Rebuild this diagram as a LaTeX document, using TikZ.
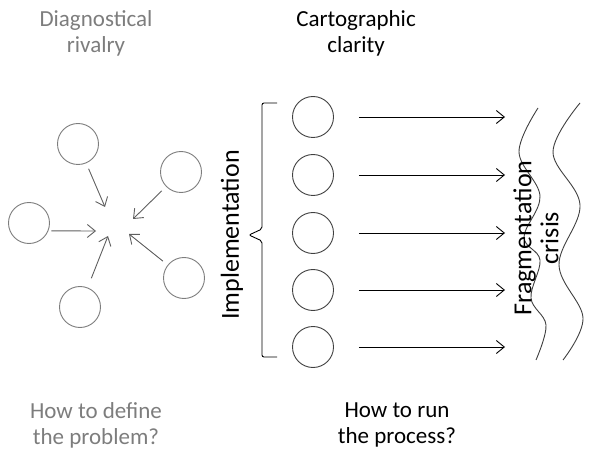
\documentclass[tikz,border=0pt]{standalone}
\usepackage{fontspec}
\setmainfont{Carlito}
\usetikzlibrary{arrows.meta}
\definecolor{rivalgray}{RGB}{125,125,125}
\definecolor{arrowgray}{RGB}{95,95,95}
\tikzset{
  circ/.style={draw, circle, minimum size=41pt, inner sep=0pt},
  arr/.style={-{Straight Barb[length=8pt,width=13pt]}},
  title/.style={align=center, font=\fontsize{23}{26}\selectfont},
  sidetext/.style={align=center, rotate=90, font=\fontsize{26}{27}\selectfont},
}

\begin{document}
\begin{tikzpicture}[x=1pt,y=-1pt,line width=0.9pt]
	\useasboundingbox (0,0) rectangle (589,465);
	% titles
	\node[title, text=rivalgray] (rival) at (96,33) {Diagnostical\\rivalry};
	\node[title] (clarity) at (356,33) {Cartographic\\clarity};
	\node[title, text=rivalgray] (define) at (96,425) {How to define\\the problem?};
	\node[title] (run) at (397,425) {How to run\\the process?};

	% left: circles pointing at one spot
	\node[circ, draw=rivalgray] (l1) at (78,144) {};
	\node[circ, draw=rivalgray] (l2) at (181,172) {};
	\node[circ, draw=rivalgray] (l3) at (29,223) {};
	\node[circ, draw=rivalgray] (l4) at (184,278) {};
	\node[circ, draw=rivalgray] (l5) at (80,307) {};
	\coordinate (h1) at (105,207);
	\coordinate (h2) at (133,219);
	\coordinate (h3) at (96,231);
	\coordinate (h4) at (129,234);
	\coordinate (h5) at (108,236);
	\draw [arr, arrowgray, shorten <=6pt] (l1) -- (h1);
	\draw [arr, arrowgray, shorten <=6pt] (l2) -- (h2);
	\draw [arr, arrowgray, shorten <=3pt] (l3.-22) -- (h3);
	\draw [arr, arrowgray, shorten <=6pt] (l4) -- (h4);
	\draw [arr, arrowgray, shorten <=10pt] (l5) -- (h5);

	% middle: bracket, circles and arrows
	\draw [rounded corners=2pt] (277,103) -- (262,103) -- (262,229) -- (249,235)
		-- (262,241) -- (262,357) -- (277,357);
	\node[sidetext] (impl) at (232,235) {Implementation};
	\foreach \i/\y in {1/117,2/175,3/233,4/290,5/347} {
		\node[circ, draw=black!75] (m\i) at (313,\y) {};
		\coordinate (e\i) at (505,\y);
		\draw [arr, shorten <=25pt] (m\i) -- (e\i);
	}

	% right: waves
	\draw [black!75] plot[smooth, tension=0.6] coordinates {(538,108) (519,152) (540,196)
		(524,237) (540,260) (531,298) (546,325) (536,360)};
	\draw [black!75] plot[smooth, tension=0.6] coordinates {(580,103) (553,152) (580,205)
		(559,265) (583,318) (563,360)};
	\node[sidetext] (crisis) at (536,238) {Fragmentation\\crisis};
\end{tikzpicture}
\end{document}
